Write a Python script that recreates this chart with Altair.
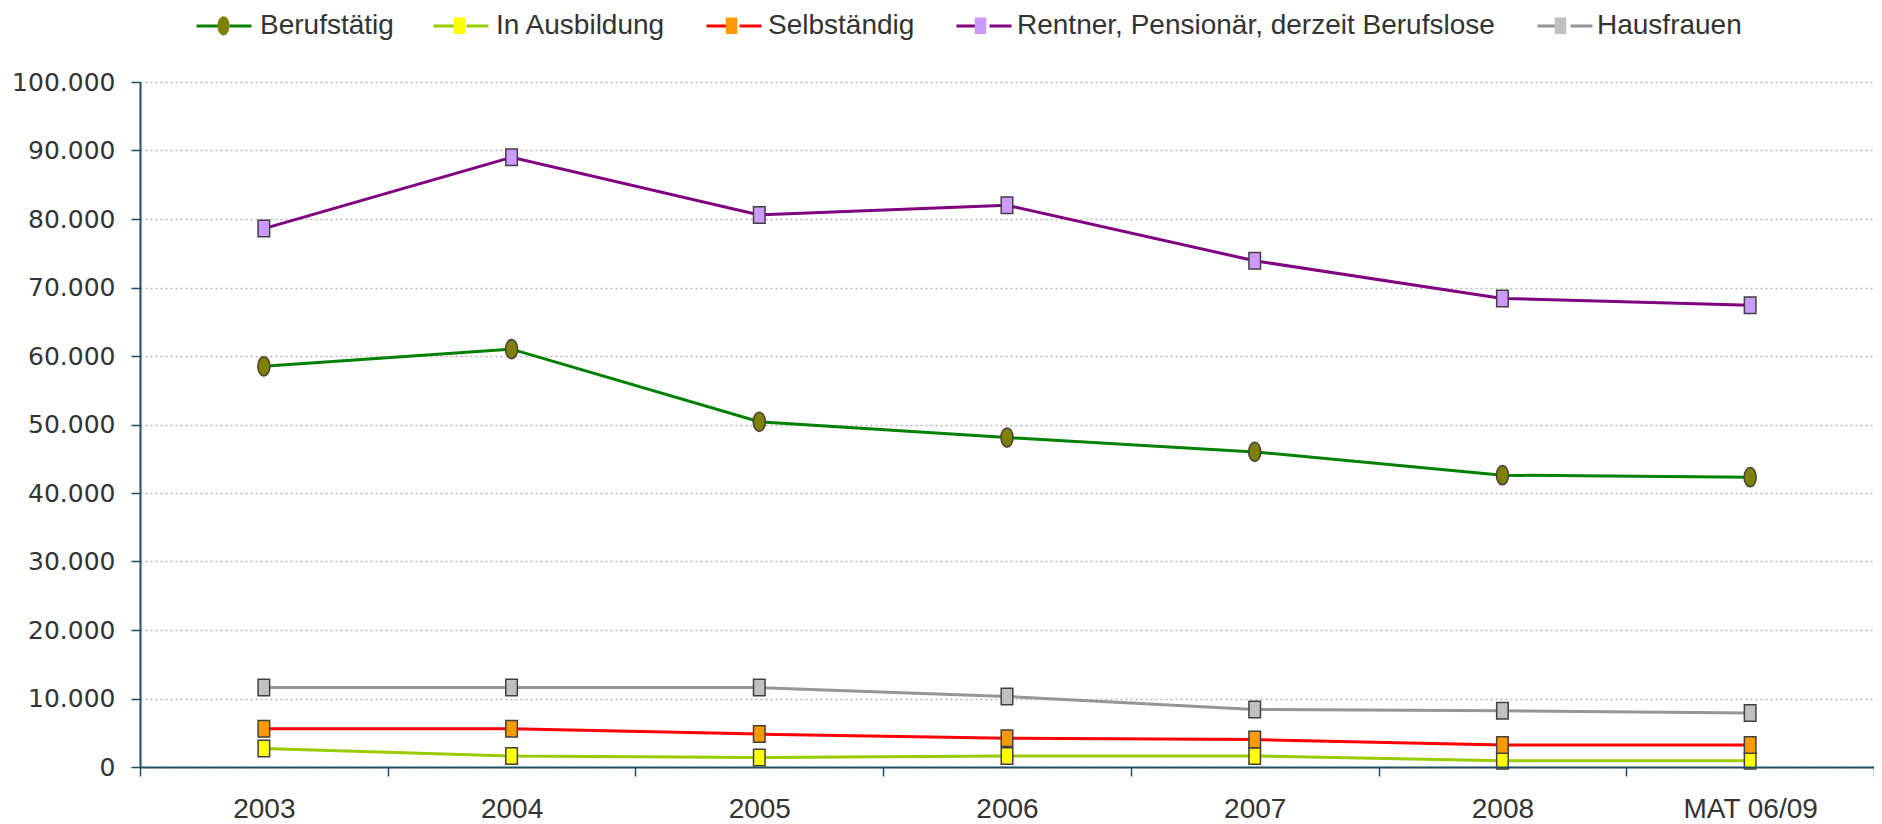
import altair as alt
import pandas as pd

categories = ["2003", "2004", "2005", "2006", "2007", "2008", "MAT 06/09"]
series_names = [
    "Berufstätig",
    "In Ausbildung",
    "Selbständig",
    "Rentner, Pensionär, derzeit Berufslose",
    "Hausfrauen",
]
berufstaetig = [58500, 61000, 50400, 48100, 46000, 42600, 42300]
in_ausbildung = [2700, 1600, 1400, 1600, 1600, 900, 900]
selbstaendig = [5600, 5600, 4800, 4200, 4000, 3200, 3200]
rentner = [78600, 89000, 80600, 82000, 73900, 68400, 67400]
hausfrauen = [11600, 11600, 11600, 10300, 8400, 8200, 7900]
y_ticks = [0, 10000, 20000, 30000, 40000, 50000, 60000, 70000, 80000, 90000, 100000]

line_colors = ["#008000", "#99CC00", "#FF0000", "#800080", "#969696"]
fill_colors = ["#808000", "#FFFF00", "#FF9900", "#CC99FF", "#C0C0C0"]

# marker paths (shared by chart and legend, symbol box 55px)
ELLIPSE = "M-1,0M1,0M-0.22,0A0.22,0.35 0 1,0 0.22,0A0.22,0.35 0 1,0 -0.22,0Z"
SQUARE = "M-1,0M1,0M-0.21,-0.3H0.21V0.3H-0.21Z"
LEG_LINE = "M-1,0H-0.2M0.2,0H1"
MARK_SIZE = 3025

rows = []
for name, vals in zip(series_names, [berufstaetig, in_ausbildung, selbstaendig, rentner, hausfrauen]):
    for c, v in zip(categories, vals):
        rows.append({"Jahr": c, "Serie": name, "Wert": v})
df = pd.DataFrame(rows)

TXT = "#333333"
AXIS_C = "#1F4E63"
LEG_X = 55
LEG_Y = -85

common_legend = dict(
    orient="none",
    legendX=LEG_X,
    legendY=LEG_Y,
    direction="horizontal",
    title=None,
    labelFont="Liberation Sans",
    labelFontSize=28,
    labelColor=TXT,
    labelOffset=8,
    labelLimit=0,
    symbolSize=MARK_SIZE,
    padding=0,
)

x_enc = alt.X(
    "Jahr:N",
    sort=categories,
    scale=alt.Scale(type="band", paddingInner=0, paddingOuter=0),
    axis=alt.Axis(
        title=None,
        labelAngle=0,
        tickBand="extent",
        tickSize=9,
        tickWidth=1.5,
        tickColor=AXIS_C,
        domainColor=AXIS_C,
        domainWidth=2,
        labelFont="Liberation Sans",
        labelFontSize=28,
        labelColor=TXT,
        labelPadding=19,
        grid=False,
        zindex=1,
    ),
)
y_enc = alt.Y(
    "Wert:Q",
    scale=alt.Scale(domain=[0, 100000], nice=False),
    axis=alt.Axis(
        title=None,
        values=y_ticks,
        labelExpr="replace(format(datum.value, ','), ',', '.')",
        labelFont="DejaVu Sans",
        labelFontSize=25,
        labelColor=TXT,
        labelPadding=16,
        tickSize=9,
        tickWidth=1.5,
        tickColor=AXIS_C,
        domainColor=AXIS_C,
        domainWidth=2,
        grid=True,
        gridColor="#b4b4b4",
        gridDash=[2, 3],
        gridWidth=1.3,
        zindex=0,
    ),
)

# line legend: color scale domain comes from a sort (separate legend)
lines = alt.Chart(df).mark_line(strokeWidth=3).encode(
    x=x_enc,
    y=y_enc,
    color=alt.Color(
        "Serie:N",
        sort=series_names,
        scale=alt.Scale(range=line_colors),
        legend=alt.Legend(
            **common_legend,
            columnPadding=32,
            labelOpacity=0,
            symbolType=LEG_LINE,
            symbolStrokeWidth=3,
        ),
    ),
)

leg2 = alt.Legend(
    **common_legend,
    columnPadding=35,
    symbolStrokeColor="#404040",
    symbolStrokeWidth=1.5,
    symbolOpacity=1,
)

# marker legend: fill + shape share an explicit domain and merge
points = alt.Chart(df).mark_point(
    filled=True, size=MARK_SIZE, stroke="#404040", strokeWidth=1.5, opacity=1
).encode(
    x=x_enc,
    y=y_enc,
    fill=alt.Fill("Serie:N", scale=alt.Scale(domain=series_names, range=fill_colors), legend=leg2),
    shape=alt.Shape(
        "Serie:N",
        scale=alt.Scale(domain=series_names, range=[ELLIPSE, SQUARE, SQUARE, SQUARE, SQUARE]),
        legend=leg2,
    ),
)

chart = (
    alt.layer(lines, points)
    .properties(
        width=1734,
        height=685,
        autosize=alt.AutoSizeParams(type="none"),
        padding={"left": 132, "top": 74, "right": 0, "bottom": 56},
        background="white",
    )
    .configure_view(stroke=None)
)

chart.save("out.html", embed_options={"renderer": "svg", "actions": False})
